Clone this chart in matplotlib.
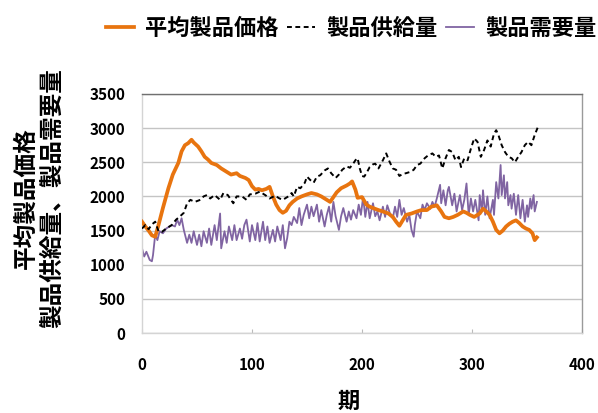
import matplotlib
matplotlib.use("Agg")
import matplotlib.pyplot as plt

plt.rcParams['font.family'] = ['Noto Sans CJK JP', 'DejaVu Sans']

# ---- data ----
price_x = [0, 3, 6, 9, 12, 15, 19, 24, 28, 33, 36, 39, 42, 45, 47, 51, 54, 57, 60, 63,
           68, 72, 77, 81, 86, 89, 94, 97, 100, 103, 106, 109, 113, 116, 119, 122, 125,
           128, 131, 134, 137, 141, 145, 150, 154, 159, 163, 168, 171, 174, 177, 181,
           186, 189, 191, 194, 196, 200, 204, 207, 210, 215, 219, 224, 228, 231, 234,
           237, 240, 245, 250, 254, 259, 263, 268, 272, 275, 279, 283, 287, 292, 295,
           298, 302, 305, 307, 310, 313, 316, 319, 322, 325, 328, 331, 334, 337, 340,
           343, 346, 349, 352, 355, 357, 359]
price_y = [1630, 1560, 1500, 1430, 1410, 1580, 1830, 2120, 2320, 2490, 2660, 2750, 2780,
           2830, 2790, 2730, 2660, 2580, 2540, 2490, 2460, 2410, 2360, 2320, 2340, 2300,
           2270, 2240, 2150, 2100, 2110, 2090, 2110, 2140, 2000, 1880, 1800, 1760, 1790,
           1870, 1920, 1970, 2000, 2030, 2050, 2030, 2000, 1950, 1920, 1990, 2060, 2120,
           2160, 2190, 2220, 2100, 1980, 1990, 1880, 1850, 1830, 1800, 1780, 1750, 1700,
           1630, 1570, 1650, 1730, 1750, 1780, 1800, 1800, 1850, 1870, 1780, 1700, 1680,
           1700, 1730, 1780, 1760, 1730, 1700, 1730, 1750, 1820, 1780, 1730, 1630, 1510,
           1460, 1500, 1560, 1600, 1630, 1650, 1610, 1560, 1530, 1510, 1460, 1360, 1400]

supply_x = [0, 3, 6, 9, 12, 15, 18, 22, 27, 31, 34, 38, 41, 44, 48, 53, 56, 59, 62, 66,
            71, 74, 78, 83, 86, 91, 95, 98, 103, 107, 112, 116, 121, 125, 128, 133, 136,
            138, 141, 144, 148, 150, 153, 156, 159, 162, 166, 169, 172, 176, 179, 182,
            186, 189, 192, 194, 196, 198, 200, 202, 204, 207, 210, 212, 215, 219, 222,
            225, 228, 231, 234, 237, 240, 244, 247, 250, 253, 257, 260, 264, 267, 270,
            273, 276, 279, 282, 285, 288, 290, 293, 296, 299, 302, 305, 308, 311, 314,
            317, 320, 322, 324, 327, 330, 333, 336, 339, 342, 345, 348, 351, 354, 357, 360]
supply_y = [1530, 1580, 1520, 1590, 1630, 1490, 1480, 1530, 1580, 1660, 1700, 1760, 1900,
            1950, 1920, 1950, 2000, 2020, 1970, 2020, 1950, 2050, 2020, 1900, 2000, 2000,
            1950, 2030, 2040, 2070, 2020, 1970, 2010, 1970, 1950, 2000, 2050, 2000, 2140,
            2120, 2200, 2290, 2240, 2200, 2290, 2310, 2380, 2410, 2340, 2270, 2320, 2390,
            2440, 2420, 2480, 2530, 2560, 2410, 2300, 2290, 2340, 2430, 2470, 2480, 2410,
            2530, 2630, 2510, 2410, 2390, 2300, 2330, 2340, 2360, 2390, 2460, 2480, 2560,
            2600, 2630, 2580, 2600, 2410, 2560, 2680, 2650, 2530, 2580, 2430, 2560, 2530,
            2700, 2850, 2800, 2580, 2680, 2820, 2730, 2920, 2970, 2900, 2750, 2650, 2580,
            2560, 2500, 2580, 2650, 2750, 2800, 2750, 2900, 3020]

demand_x = [0, 2, 4, 7, 9, 10, 12, 14, 16, 19, 22, 27, 30, 32, 34, 36, 38, 41, 43, 45,
            47, 50, 52, 54, 56, 59, 61, 63, 66, 68, 71, 72, 75, 77, 79, 82, 84, 86, 89,
            91, 93, 95, 98, 100, 103, 105, 107, 110, 112, 114, 116, 119, 121, 123, 126,
            128, 130, 132, 134, 136, 138, 141, 143, 145, 147, 150, 152, 154, 156, 159,
            161, 163, 166, 168, 170, 172, 174, 176, 179, 181, 183, 186, 188, 190, 192,
            195, 197, 199, 201, 203, 205, 207, 210, 212, 214, 216, 219, 221, 223, 226,
            228, 230, 232, 234, 236, 238, 241, 243, 245, 247, 248, 250, 253, 255, 257,
            259, 262, 264, 266, 268, 271, 272, 274, 276, 278, 279, 282, 284, 286, 289,
            291, 293, 295, 297, 299, 301, 303, 306, 307, 309, 310, 312, 314, 316, 319,
            320, 322, 324, 326, 327, 329, 330, 332, 333, 335, 336, 338, 340, 342, 344,
            346, 348, 350, 351, 353, 354, 356, 357, 359]
demand_y = [1240, 1120, 1190, 1070, 1050, 1140, 1440, 1360, 1490, 1460, 1530, 1580, 1560,
            1660, 1580, 1680, 1510, 1320, 1440, 1320, 1490, 1290, 1440, 1270, 1490, 1320,
            1530, 1290, 1580, 1360, 1750, 1240, 1490, 1320, 1560, 1360, 1580, 1360, 1530,
            1380, 1580, 1660, 1340, 1580, 1360, 1610, 1340, 1630, 1360, 1560, 1320, 1510,
            1340, 1560, 1360, 1580, 1240, 1390, 1630, 1580, 1700, 1610, 1830, 1580, 1730,
            1880, 1680, 1850, 1710, 1880, 1630, 1800, 1560, 1730, 1850, 1630, 1920, 1710,
            1510, 1710, 1830, 1630, 1780, 1660, 1800, 1680, 1880, 1730, 1990, 1700, 1920,
            1680, 1900, 1710, 1780, 1650, 1850, 1700, 1870, 1720, 1680, 1850, 1700, 1950,
            1730, 1830, 1630, 1730, 1510, 1410, 1580, 1780, 1680, 1880, 1800, 1900, 1820,
            1920, 1850, 1970, 2170, 1900, 2090, 1870, 2090, 2140, 1870, 2040, 1780, 2020,
            1800, 1950, 2190, 1730, 1970, 1780, 1950, 1650, 2020, 1780, 2090, 1730, 2000,
            1680, 1950, 1730, 2210, 1970, 2460, 2020, 2310, 1970, 2210, 1870, 2020, 1820,
            2040, 1730, 2020, 1680, 1950, 1630, 1870, 1700, 1970, 1820, 2020, 1780, 1920]

labels = ['平均製品価格', '製品供給量', '製品需要量']
y_ticks = [0, 500, 1000, 1500, 2000, 2500, 3000, 3500]
x_ticks = [0, 100, 200, 300, 400]
x_label = '期'
y_label = '平均製品価格\n製品供給量、製品需要量'

# ---- figure ----
fig = plt.figure(figsize=(5.98, 4.13), dpi=100)
W, H = 598, 413
left, right, top, bottom = 142, 582, 94, 333
ax = fig.add_axes([left / W, 1 - bottom / H, (right - left) / W, (bottom - top) / H])

ax.plot(price_x, price_y, color='#E8740F', lw=2.7, label=labels[0], zorder=3)
ax.plot(supply_x, supply_y, color='black', lw=1.4, ls=(0, (2.5, 1.8)), label=labels[1], zorder=4)
ax.plot(demand_x, demand_y, color='#8064A2', lw=1.3, label=labels[2], zorder=2)

ax.set_xlim(0, 400)
ax.set_ylim(0, 3500)
ax.set_yticks(y_ticks)
ax.set_xticks(x_ticks)
ax.yaxis.grid(True, color='#c4c4c4', lw=1.0)
ax.set_axisbelow(True)

ax.tick_params(axis='y', length=0, pad=12)
ax.tick_params(axis='x', direction='in', length=3, color='#bbbbbb', pad=17)
for lab in ax.get_xticklabels() + ax.get_yticklabels():
    lab.set_fontweight('bold')
    lab.set_fontsize(11)

ax.spines['top'].set_color('#707070')
ax.spines['right'].set_color('#9a9a9a')
ax.spines['left'].set_color('#d4d4d4')
ax.spines['bottom'].set_color('#d4d4d4')
for s in ax.spines.values():
    s.set_linewidth(1.0)

fig.text(349 / W, 1 - 401 / H, x_label, ha='center', va='center',
         fontsize=16, fontweight='bold')
fig.text(39 / W, 1 - 198 / H, y_label, rotation=90, ha='center', va='center',
         multialignment='center', fontsize=17, fontweight='bold', linespacing=1.12)

leg = fig.legend(loc='center left', bbox_to_anchor=(106 / W, 1 - 28.5 / H), ncol=3,
                 frameon=False, borderpad=0, borderaxespad=0,
                 handlelength=1.25, handletextpad=0.5, columnspacing=0.4,
                 prop={'size': 16, 'weight': 'bold'})

fig.savefig('out.png', dpi=100)
